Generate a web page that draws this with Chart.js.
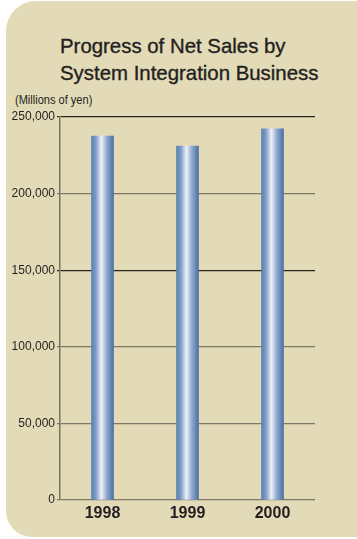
<!DOCTYPE html>
<html>
<head>
<meta charset="utf-8">
<script src="https://cdn.jsdelivr.net/npm/chart.js@4"></script>
<style>
  html, body { margin: 0; padding: 0; background: #fff; }
  #wrap { position: relative; width: 357px; height: 539px; overflow: hidden; }
  #panel {
    position: absolute; left: 6px; top: 1px; width: 351px; height: 536px;
    background: #e3dab7; border-radius: 30px 0 0 26px;
  }
  #title {
    position: absolute; left: 60px; top: 33px;
    font: 20.4px "Liberation Sans", Arial, sans-serif; line-height: 27px; color: #231f20;
    -webkit-text-stroke: 0.35px #231f20;
    white-space: nowrap;
  }
  #unit {
    position: absolute; left: 15px; top: 93px;
    font: 12px "Liberation Sans", Arial, sans-serif; color: #231f20;
    transform: scaleX(0.92); transform-origin: left top;
    white-space: nowrap;
  }
  canvas { position: absolute; left: 0; top: 0; }
</style>
</head>
<body>
<div id="wrap">
  <div id="panel"></div>
  <div id="title">Progress of Net Sales by<br>System Integration Business</div>
  <div id="unit">(Millions of yen)</div>
  <canvas id="chart" width="357" height="539"></canvas>
</div>
<script>
// Données
const years = ['1998', '1999', '2000'];
const netSales = [237600, 231000, 242200];
const yTicks = [0, 50000, 100000, 150000, 200000, 250000];

/* dégradé "cylindre" pour chaque barre */
const barGradient = (ctx) => {
    const chart = ctx.chart;
    if (!chart.chartArea || !chart.scales.x) return '#6d8fbd';
    const cx = chart.scales.x.getPixelForValue(ctx.dataIndex);
    const g = chart.ctx.createLinearGradient(cx - 11, 0, cx + 11, 0);
    g.addColorStop(0, '#5b81b2');
    g.addColorStop(0.2, '#7d9dc7');
    g.addColorStop(0.45, '#eef0f8');
    g.addColorStop(0.7, '#8ea9cf');
    g.addColorStop(1, '#4a71a3');
    return g;
};

const ctx = document.getElementById('chart').getContext('2d');

new Chart(ctx, {
    type: 'bar',
    data: {
        labels: years,
        datasets: [{
            data: netSales,
            backgroundColor: barGradient,
            borderWidth: 0,
            barThickness: 22
        }]
    },
    options: {
        responsive: false,
        animation: false,
        layout: { padding: { top: 117, right: 42, left: 0, bottom: 0 } },
        plugins: { legend: { display: false }, tooltip: { enabled: false } },
        scales: {
            x: {
                grid: { display: false, drawTicks: false },
                border: { display: false },
                ticks: {
                    padding: 4,
                    color: '#231f20',
                    font: { family: '"Liberation Sans", Arial', size: 16, weight: 'bold' }
                },
                afterFit: (scale) => { scale.height = 39; }
            },
            y: {
                min: 0,
                max: 250000,
                afterBuildTicks: (scale) => { scale.ticks = yTicks.map(v => ({ value: v })); },
                grid: {
                    color: (c) => (c.tick && (c.tick.value === 250000 || c.tick.value === 150000)) ? '#2b2720' : '#807866',
                    lineWidth: 1.2,
                    tickLength: 3
                },
                border: { display: true, color: '#7a7262', width: 1.5 },
                ticks: {
                    padding: 2,
                    color: '#231f20',
                    font: { family: '"Liberation Sans", Arial', size: 12 },
                    callback: (v) => v.toLocaleString('en-US')
                },
                afterFit: (scale) => { scale.width = 60; }
            }
        }
    }
});
</script>
</body>
</html>
